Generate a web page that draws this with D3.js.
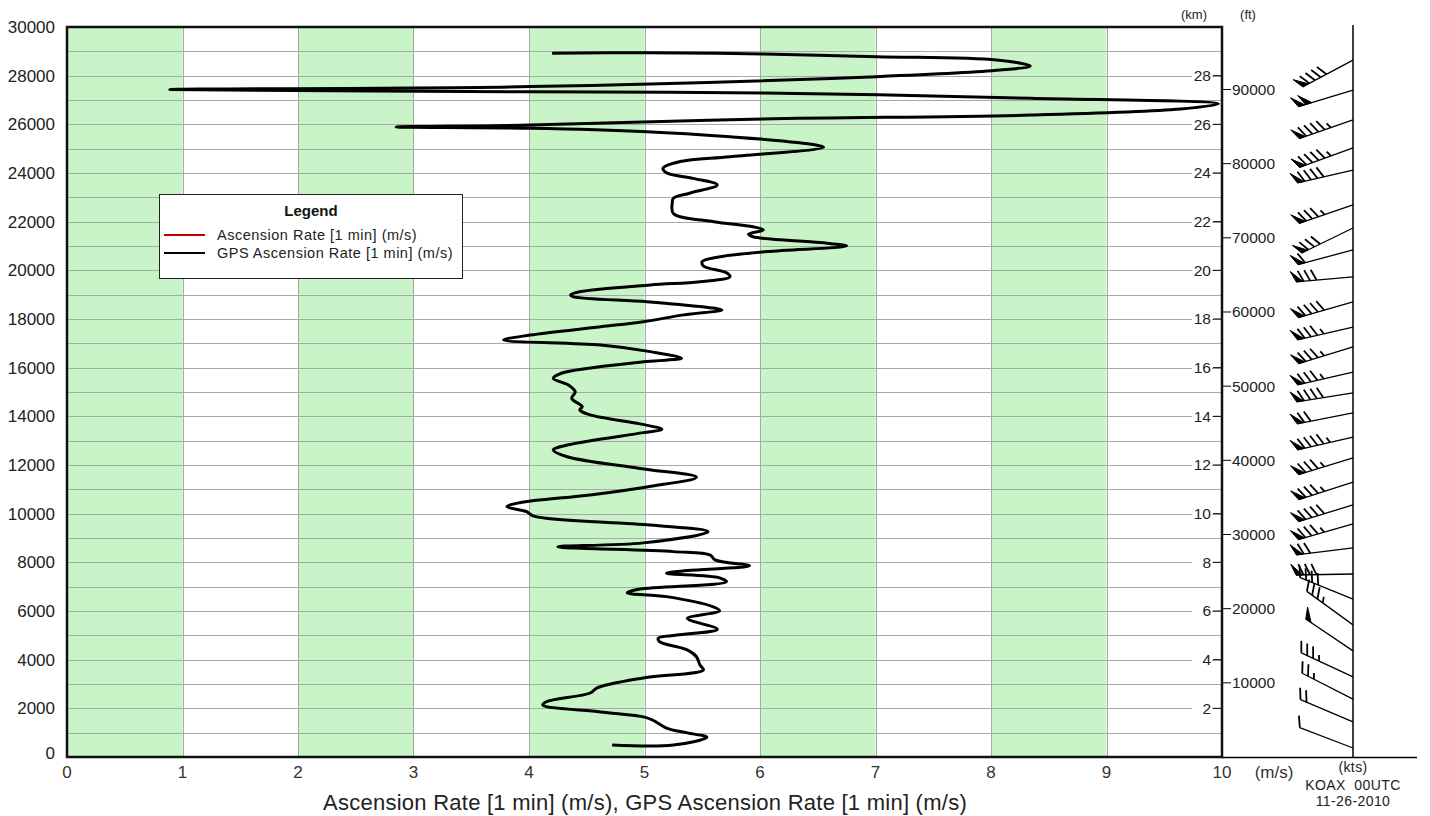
<!DOCTYPE html>
<html>
<head>
<meta charset="utf-8">
<script src="https://cdn.jsdelivr.net/npm/d3@7"></script>
<style>
  body { margin: 0; background: #fff; }
  svg { display: block; font-family: "Liberation Sans", Arial, sans-serif; }
</style>
</head>
<body>
<div id="chart"></div>
<script>
// GPS ascension rate (m/s) vs altitude (m) bottom to top
const gpsRate = [4.72,5.25,5.54,5.37,5.19,5.07,5.00,4.62,4.12,4.15,4.53,4.59,4.99,5.51,5.48,5.45,5.37,5.13,5.12,5.28,
  5.63,5.39,5.37,5.65,5.59,5.19,4.85,4.96,5.71,5.65,5.19,5.37,5.91,5.61,5.57,5.25,4.25,4.99,5.55,5.05,
  4.04,3.98,3.81,3.92,4.53,5.02,5.45,4.96,4.33,4.21,4.33,4.99,5.15,4.96,4.53,4.44,
  4.46,4.37,4.40,4.34,4.21,4.28,5.02,5.32,5.05,4.62,3.78,4.01,4.62,4.99,5.34,5.67,5.48,5.02,4.38,4.36,
  4.44,5.05,5.48,5.74,5.71,5.51,5.50,5.63,6.06,6.75,6.52,5.94,5.90,6.03,5.94,5.60,5.25,5.24,5.25,5.39,
  5.63,5.42,5.19,5.16,5.31,5.74,
  6.55,6.32,5.74,5.02,4.01,2.85,4.01,6.03,8.34,9.64,9.97,
  8.34,6.03,4.01,0.89,4.01,7.01,8.08,8.34,8.05,7.01,6.03,5.00,4.20];
const gpsAlt = [490,490,810,990,1190,1520,1640,1850,2140,2270,2630,2840,3250,3580,3780,4120,4400,4740,4890,5010,
  5250,5630,5710,6010,6180,6590,6750,6900,7200,7360,7550,7660,7860,8100,8300,8440,8640,8800,9260,9530,
  9900,10080,10290,10450,10770,11100,11500,11860,12340,12620,12820,13330,13470,13690,14060,14260,
  14400,14740,15010,15290,15560,15770,16250,16390,16660,16930,17140,17340,17680,17890,18170,18370,18510,18710,18920,18990,
  19120,19400,19530,19740,19900,20180,20360,20540,20770,21000,21140,21380,21490,21660,21790,22000,22340,22760,22960,23170,
  23510,23780,24010,24190,24470,24670,
  25060,25250,25490,25700,25840,25890,25970,26220,26380,26630,26840,
  27070,27290,27340,27430,27550,27960,28230,28400,28640,28780,28890,28940,28920];

// wind barbs: altitude (m), direction (deg), speed (kts)
const windAlt = [370,1440,2380,3290,4360,5430,6490,7520,8590,9580,10360,11300,12290,13150,14140,14960,15820,16850,17670,18700,19730,20840,21740,22690,24120,25030,26180,27410,28640];
const windDir = [291,293,297,295,304,306,292,269,263,254,253,252,253,257,259,261,257,253,257,254,265,255,244,251,257,250,251,253,242];
const windSpd = [10,20,25,35,50,35,40,80,70,85,90,85,85,95,70,90,85,85,85,90,80,60,80,85,90,95,95,100,90];

const xTicks = [0,1,2,3,4,5,6,7,8,9,10];
const yTicks = [0,2000,4000,6000,8000,10000,12000,14000,16000,18000,20000,22000,24000,26000,28000,30000];
const kmTicks = [2,4,6,8,10,12,14,16,18,20,22,24,26,28];
const ftTicks = [10000,20000,30000,40000,50000,60000,70000,80000,90000];
const greenBands = [0,2,4,6,8];

const legendItems = [
  { name: "Ascension Rate [1 min] (m/s)", color: "#c00000" },
  { name: "GPS Ascension Rate [1 min] (m/s)", color: "#000" }
];

const width = 1430, height = 816;
const x = d3.scaleLinear().domain([0, 10]).range([67, 1222]);
const y = d3.scaleLinear().domain([0, 30000]).range([757, 27]);

const svg = d3.select("#chart").append("svg")
  .attr("width", width).attr("height", height);

svg.append("rect").attr("width", width).attr("height", height).attr("fill", "#fff");

// green bands
svg.append("g").selectAll("rect").data(greenBands).enter().append("rect")
  .attr("x", d => x(d)).attr("y", y(30000))
  .attr("width", d => x(d + 1) - x(d)).attr("height", y(0) - y(30000))
  .attr("fill", "#c8f4c8");

// grid
const grid = svg.append("g").attr("stroke", "#a3aba3").attr("stroke-width", 1);
grid.selectAll(".h").data(d3.range(1000, 30000, 1000)).enter().append("line")
  .attr("x1", x(0)).attr("x2", x(10))
  .attr("y1", d => Math.round(y(d)) + 0.5).attr("y2", d => Math.round(y(d)) + 0.5);
grid.selectAll(".v").data(d3.range(1, 10)).enter().append("line")
  .attr("y1", y(30000)).attr("y2", y(0))
  .attr("x1", d => Math.round(x(d)) + 0.5).attr("x2", d => Math.round(x(d)) + 0.5);

// km axis (inside, right edge)
const km = svg.append("g");
km.selectAll("rect").data(kmTicks).enter().append("rect")
  .attr("x", 1192).attr("y", d => y(d * 1000) - 7).attr("width", 20).attr("height", 14)
  .attr("fill", "#fff");
km.selectAll("line").data(kmTicks).enter().append("line")
  .attr("x1", 1213).attr("x2", x(10))
  .attr("y1", d => y(d * 1000)).attr("y2", d => y(d * 1000))
  .attr("stroke", "#000");
km.selectAll("text").data(kmTicks).enter().append("text")
  .attr("x", 1211).attr("y", d => y(d * 1000)).attr("dy", "0.35em")
  .attr("text-anchor", "end").attr("font-size", 15.5).attr("fill", "#222")
  .text(d => d);

// ft axis
const ft = svg.append("g");
ft.selectAll("line").data(ftTicks).enter().append("line")
  .attr("x1", x(10)).attr("x2", 1231)
  .attr("y1", d => y(d * 0.3048)).attr("y2", d => y(d * 0.3048))
  .attr("stroke", "#000");
ft.selectAll("text").data(ftTicks).enter().append("text")
  .attr("x", 1232).attr("y", d => y(d * 0.3048)).attr("dy", "0.35em")
  .attr("font-size", 15.5).attr("fill", "#222")
  .text(d => d);

svg.append("text").attr("x", 1194).attr("y", 19).attr("text-anchor", "middle")
  .attr("font-size", 13).attr("fill", "#222").text("(km)");
svg.append("text").attr("x", 1248).attr("y", 19).attr("text-anchor", "middle")
  .attr("font-size", 13).attr("fill", "#222").text("(ft)");

// data line
const line = d3.line()
  .x(d => x(d[0])).y(d => y(d[1]))
  .curve(d3.curveCatmullRom.alpha(0.5));
svg.append("path")
  .datum(gpsRate.map((r, i) => [r, gpsAlt[i]]))
  .attr("d", line)
  .attr("fill", "none").attr("stroke", "#000").attr("stroke-width", 3)
  .attr("stroke-linejoin", "round");

// frame
svg.append("rect")
  .attr("x", x(0)).attr("y", y(30000))
  .attr("width", x(10) - x(0)).attr("height", y(0) - y(30000))
  .attr("fill", "none").attr("stroke", "#111").attr("stroke-width", 2.5);

// bottom line extending under wind panel
svg.append("line").attr("x1", x(10)).attr("x2", 1417).attr("y1", 757.5).attr("y2", 757.5)
  .attr("stroke", "#000").attr("stroke-width", 1.5);

// y axis labels
svg.append("g").selectAll("text").data(yTicks).enter().append("text")
  .attr("x", 55).attr("y", d => y(d) - (d === 0 ? 4 : 0)).attr("dy", "0.35em")
  .attr("text-anchor", "end").attr("font-size", 17).attr("fill", "#222")
  .text(d => d);

// x axis labels
svg.append("g").selectAll("text").data(xTicks).enter().append("text")
  .attr("x", d => x(d)).attr("y", 778)
  .attr("text-anchor", "middle").attr("font-size", 17).attr("fill", "#333")
  .text(d => d);
svg.append("text").attr("x", 1274).attr("y", 778).attr("text-anchor", "middle")
  .attr("font-size", 17).attr("fill", "#333").text("(m/s)");
svg.append("text").attr("x", 645).attr("y", 810).attr("text-anchor", "middle")
  .attr("font-size", 22).attr("letter-spacing", 0.25).attr("fill", "#222")
  .text("Ascension Rate [1 min] (m/s), GPS Ascension Rate [1 min] (m/s)");

// legend
const lg = svg.append("g");
lg.append("rect").attr("x", 159.5).attr("y", 194.5).attr("width", 303).attr("height", 84)
  .attr("fill", "#fff").attr("stroke", "#222").attr("stroke-width", 1);
lg.append("text").attr("x", 311).attr("y", 216).attr("text-anchor", "middle")
  .attr("font-size", 15).attr("font-weight", "bold").attr("fill", "#111").text("Legend");
legendItems.forEach((d, i) => {
  const ly = 235 + i * 18;
  lg.append("line").attr("x1", 164).attr("x2", 205).attr("y1", ly).attr("y2", ly)
    .attr("stroke", d.color).attr("stroke-width", 2);
  lg.append("text").attr("x", 217).attr("y", ly).attr("dy", "0.35em")
    .attr("font-size", 14.5).attr("letter-spacing", 0.5).attr("fill", "#222").text(d.name);
});

// wind barbs
const staffX = 1353;
svg.append("line").attr("x1", staffX).attr("x2", staffX).attr("y1", 25).attr("y2", 757)
  .attr("stroke", "#000").attr("stroke-width", 1.5);

const barbs = svg.append("g").attr("stroke", "#000").attr("fill", "#000");
windAlt.forEach((alt, i) => {
  const r = windDir[i] * Math.PI / 180;
  const ux = Math.sin(r), uy = -Math.cos(r);
  const L = 57;
  const x0 = staffX, y0 = y(alt);
  const tx = x0 + ux * L, ty = y0 + uy * L;
  const a = 65 * Math.PI / 180;
  const fx = ux * Math.cos(a) - uy * Math.sin(a);
  const fy = ux * Math.sin(a) + uy * Math.cos(a);
  const fl = 12, step = 6.5;
  const pt = d => [tx - ux * d, ty - uy * d];
  barbs.append("line").attr("x1", x0).attr("y1", y0).attr("x2", tx).attr("y2", ty)
    .attr("stroke-width", 1.3);
  let s = Math.round(windSpd[i] / 5) * 5;
  let d = 0;
  while (s >= 50) {
    const p1 = pt(d), p2 = pt(d + step);
    barbs.append("path")
      .attr("d", `M${p1[0]},${p1[1]}L${p1[0] + fx * fl},${p1[1] + fy * fl}L${p2[0]},${p2[1]}Z`)
      .attr("stroke-width", 1);
    d += step + 1;
    s -= 50;
  }
  while (s >= 10) {
    const p = pt(d);
    barbs.append("line").attr("x1", p[0]).attr("y1", p[1])
      .attr("x2", p[0] + fx * fl).attr("y2", p[1] + fy * fl).attr("stroke-width", 1.8);
    d += step;
    s -= 10;
  }
  if (s >= 5) {
    const p = pt(d + (d === 0 ? step : 0));
    barbs.append("line").attr("x1", p[0]).attr("y1", p[1])
      .attr("x2", p[0] + fx * fl / 2).attr("y2", p[1] + fy * fl / 2).attr("stroke-width", 1.8);
  }
});

const foot = svg.append("g").attr("text-anchor", "middle").attr("font-size", 14)
  .attr("letter-spacing", 0.4).attr("fill", "#222");
foot.append("text").attr("x", staffX).attr("y", 772).text("(kts)");
foot.append("text").attr("x", staffX).attr("y", 790).attr("xml:space", "preserve").text("KOAX  00UTC");
foot.append("text").attr("x", staffX).attr("y", 806).text("11-26-2010");
</script>
</body>
</html>
